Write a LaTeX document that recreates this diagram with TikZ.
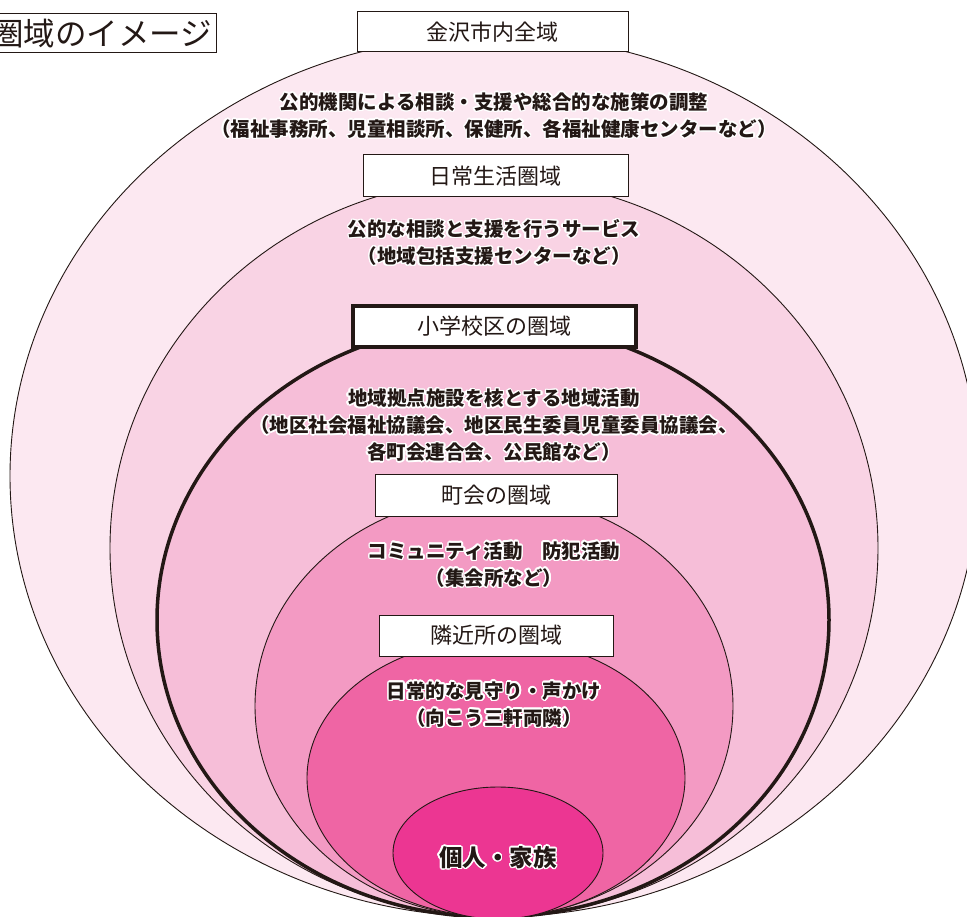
\documentclass[tikz,border=0pt]{standalone}
\usepackage{fontspec}
\usepackage{contour}
\newfontfamily\cjk{Noto Sans CJK JP}
\contourlength{1.3pt}
\contournumber{24}
\definecolor{c1}{RGB}{252,232,241}
\definecolor{c2}{RGB}{249,211,228}
\definecolor{c3}{RGB}{246,190,216}
\definecolor{c4}{RGB}{243,154,195}
\definecolor{c5}{RGB}{239,101,164}
\definecolor{c6}{RGB}{236,54,146}
\definecolor{ink}{RGB}{35,24,21}
\begin{document}
\begin{tikzpicture}[x=1pt,y=-1pt,
  ring/.style={draw=ink, line width=0.9pt},
  lbl/.style={draw=ink, fill=white, line width=1pt, inner sep=0pt,
    font=\cjk\fontsize{22}{22}\selectfont, text=ink},
  body/.style={align=center, inner sep=0pt, text=ink,
    font=\cjk\bfseries\fontsize{19.5}{27}\selectfont},
  titlebox/.style={draw=ink, fill=white, line width=1pt, inner xsep=4.5pt, inner ysep=0pt,
    text width=228pt, align=right,
    minimum height=39pt, font=\cjk\fontsize{31.5}{31.5}\selectfont, text=ink}]
\useasboundingbox (0,0) rectangle (967,917);
\fill[white] (0,0) rectangle (967,917);
% nested areas
\draw[ring, fill=c1] (494,476) ellipse [x radius=484pt, y radius=441pt];
\draw[ring, fill=c2] (494,548) ellipse [x radius=384pt, y radius=369pt];
\draw[ring, fill=c3, line width=3.5pt] (493,620) ellipse [x radius=336pt, y radius=297pt];
\draw[ring, fill=c4] (494,706) ellipse [x radius=239pt, y radius=211pt];
\draw[ring, fill=c5] (496,778) ellipse [x radius=189pt, y radius=139pt];
\draw[ring, fill=c6] (498,853) ellipse [x radius=105pt, y radius=66pt];
% title
\node[titlebox, anchor=east] (title) at (217,33.5) {圏域のイメージ};
% labels
\node[lbl, minimum width=271pt, minimum height=40pt] (l1) at (492.5,32) {金沢市内全域};
\node[lbl, minimum width=265pt, minimum height=42pt] (l2) at (495.5,176) {日常生活圏域};
\node[lbl, minimum width=283pt, minimum height=41pt, line width=3.5pt] (l3) at (494.5,326.5) {小学校区の圏域};
\node[lbl, minimum width=242pt, minimum height=42pt] (l4) at (496,495) {町会の圏域};
\node[lbl, minimum width=234pt, minimum height=41pt] (l5) at (496,635.5) {隣近所の圏域};
% descriptions
\node[body] (t1) at (494,116) {\contour{white}{公的機関による相談・支援や総合的な施策の調整}\\\contour{white}{（福祉事務所、児童相談所、保健所、各福祉健康センターなど）}};
\node[body] (t2) at (494,243) {\contour{white}{公的な相談と支援を行うサービス}\\\contour{white}{（地域包括支援センターなど）}};
\node[body] (t3) at (494,426) {\contour{white}{地域拠点施設を核とする地域活動}\\\contour{white}{（地区社会福祉協議会、地区民生委員児童委員協議会、}\\\contour{white}{各町会連合会、公民館など）}};
\node[body] (t4) at (494,565) {\contour{white}{コミュニティ活動　防犯活動}\\\contour{white}{（集会所など）}};
\node[body] (t5) at (494,705) {\contour{white}{日常的な見守り・声かけ}\\\contour{white}{（向こう三軒両隣）}};
\node[body, font=\cjk\bfseries\fontsize{23.5}{23.5}\selectfont] (t6) at (498,858) {\contour{white}{個人・家族}};
\end{tikzpicture}
\end{document}
